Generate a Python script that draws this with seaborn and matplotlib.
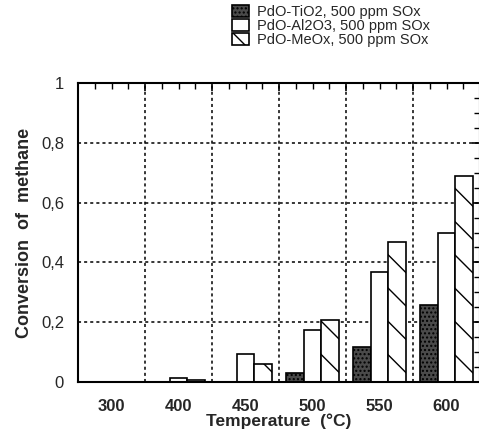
import numpy as np
import pandas as pd
import seaborn as sns
import matplotlib.pyplot as plt
from matplotlib.ticker import FixedLocator

# Datos
temps = ["300", "400", "450", "500", "550", "600"]
series = ["PdO-TiO2, 500 ppm SOx", "PdO-Al2O3, 500 ppm SOx", "PdO-MeOx, 500 ppm SOx"]
tio2 = [0.0, 0.0, 0.0, 0.03, 0.117, 0.257]
al2o3 = [0.0, 0.014, 0.094, 0.174, 0.368, 0.50]
meox = [0.0, 0.006, 0.06, 0.207, 0.468, 0.69]
y_ticks = [0, 0.2, 0.4, 0.6, 0.8, 1.0]
y_labels = ["0", "0,2", "0,4", "0,6", "0,8", "1"]

df = pd.DataFrame({
    "temp": temps * 3,
    "conv": tio2 + al2o3 + meox,
    "cat": [series[0]] * 6 + [series[1]] * 6 + [series[2]] * 6,
})

sns.set_style("white")
plt.rcParams["font.family"] = ["Liberation Sans", "DejaVu Sans"]

fig = plt.figure(figsize=(4.79, 4.34), dpi=100)
ax = fig.add_axes([78 / 479, 52 / 434, 402 / 479, 299 / 434])

sns.barplot(data=df, x="temp", y="conv", hue="cat", order=temps, hue_order=series,
            palette=["#4a4a4a", "white", "white"], edgecolor="black", linewidth=1.2,
            width=0.8, saturation=1, legend=False, ax=ax)

# Tramas de cada serie
hatches = ["....", "", "\\"]
for cont, h in zip(ax.containers, hatches):
    for p in cont.patches:
        p.set_hatch(h)
        if h == "....":
            try:
                p.set_hatchcolor("#cccccc")
            except AttributeError:
                pass

ax.set_xlim(-0.5, 5.5)
ax.set_ylim(0, 1)

# Eje x: principales en los limites de grupo (con rejilla), secundarias con etiquetas
ax.xaxis.set_major_locator(FixedLocator(np.arange(-0.5, 5.6, 1)))
ax.set_xticklabels([""] * 7)
minor_pos = np.arange(-0.25, 5.5, 0.25)
ax.xaxis.set_minor_locator(FixedLocator(minor_pos))
ax.set_xticklabels([temps[int(round(v))] if abs(v - round(v)) < 1e-6 else "" for v in minor_pos],
                   minor=True, fontsize=12, fontweight="bold")

ax.set_yticks(y_ticks)
ax.set_yticklabels(y_labels, fontsize=12)
ax.yaxis.set_minor_locator(FixedLocator(np.arange(0, 1.001, 0.05)))

ax.tick_params(which="both", direction="in", top=True, right=True, color="black")
ax.tick_params(which="major", length=6, width=1.2)
ax.tick_params(which="minor", length=4, width=1.0)
ax.tick_params(axis="x", which="minor", pad=12)
ax.tick_params(axis="y", which="major", pad=10)

ax.grid(True, which="major", linestyle=(0, (2, 2)), color="black", linewidth=1.1)
ax.set_axisbelow(True)
for s in ax.spines.values():
    s.set_color("black")
    s.set_linewidth(1.5)

ax.set_xlabel("Temperature  (°C)", fontsize=12.5, fontweight="bold", labelpad=0)
ax.set_ylabel("Conversion  of  methane", fontsize=13, fontweight="bold", labelpad=6)

fig.legend(ax.containers, series, loc="upper left", bbox_to_anchor=(222 / 479, 1.012),
           frameon=False, fontsize=10.5, handlelength=1.15, handleheight=0.8,
           labelspacing=0.0, handletextpad=0.55, borderpad=0.2)

fig.savefig("out.png", dpi=100)
